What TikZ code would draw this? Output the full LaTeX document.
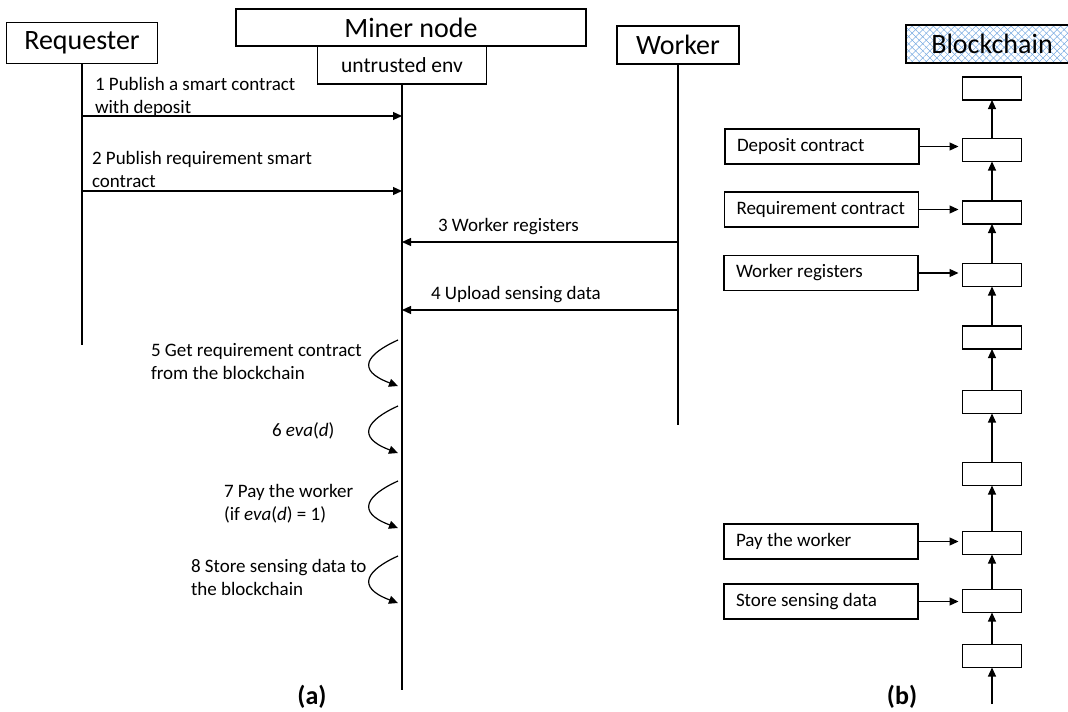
\documentclass[tikz,border=0pt]{standalone}
\usepackage{fontspec}
\setmainfont{Carlito}
\usetikzlibrary{arrows.meta,patterns.meta}
\definecolor{hatchblue}{RGB}{120,170,225}

\begin{document}
\begin{tikzpicture}[x=1pt,y=-1pt,
  every node/.style={inner sep=0pt, outer sep=0pt},
  actorbox/.style={draw, line width=1.2pt, font=\fontsize{28}{33}\selectfont},
  lifeline/.style={line width=1.2pt},
  arr/.style={line width=1.2pt, -{Triangle[length=9pt,width=8pt]}},
  lbl/.style={font=\fontsize{19}{23}\selectfont, align=flush left},
  selfarr/.style={line width=1.2pt, -{Triangle[length=9pt,width=8pt]}},
  block/.style={draw, line width=1.2pt, minimum width=59pt, minimum height=23pt},
  evbox/.style={draw, line width=1.2pt, minimum width=194pt, minimum height=35pt,
    text width=170pt, align=flush left, font=\fontsize{19}{23}\selectfont},
  caption/.style={font=\fontsize{26}{30}\selectfont\bfseries},
]
\clip (0,0) rectangle (1068,712);

% ---------- (a) sequence of interactions ----------
\node[actorbox, minimum width=151pt, minimum height=41pt] (req) at (82,43) {Requester};
\node[actorbox, minimum width=350pt, minimum height=37pt] (miner) at (411,27.5) {Miner node};
\node[draw, line width=1.2pt, minimum width=169pt, minimum height=38pt,
      font=\fontsize{21.5}{26}\selectfont] (env) at (402,65) {untrusted env};
\node[actorbox, minimum width=122pt, minimum height=38pt] (work) at (678,45) {Worker};

\coordinate (reqEnd) at (82,345);
\coordinate (minerEnd) at (402,690);
\coordinate (workEnd) at (678,425);
\draw[lifeline] (req.south) -- (reqEnd);
\draw[lifeline] (env.south) -- (minerEnd);
\draw[lifeline] (work.south) -- (workEnd);

% message levels
\coordinate (y1) at (0,116);
\coordinate (y2) at (0,191);
\coordinate (y3) at (0,242);
\coordinate (y4) at (0,310);

\draw[arr] (req.south |- y1) -- (env.south |- y1);
\draw[arr] (req.south |- y2) -- (env.south |- y2);
\draw[arr] (work.south |- y3) -- (env.south |- y3);
\draw[arr] (work.south |- y4) -- (env.south |- y4);

\node[lbl, anchor=north west] (l1) at (95,77) {1 Publish a smart contract\\with deposit};
\node[lbl, anchor=north west] (l2) at (92,151) {2 Publish requirement smart\\contract};
\node[lbl, anchor=base west] (l3) at (438,231) {3 Worker registers};
\node[lbl, anchor=base west] (l4) at (431,299) {4 Upload sensing data};

% internal steps of the miner
\coordinate (s5a) at (398,340); \coordinate (s5b) at (398,386);
\coordinate (s6a) at (398,406); \coordinate (s6b) at (398,453);
\coordinate (s7a) at (398,481); \coordinate (s7b) at (398,528);
\coordinate (s8a) at (398,556); \coordinate (s8b) at (398,603);
\foreach \s in {5,6,7,8}
  \draw[selfarr] (s\s a) .. controls +(-31,14) and +(-43,-16) .. (s\s b);

\node[lbl, anchor=north west] (l5) at (151,343) {5 Get requirement contract\\from the blockchain};
\node[lbl, anchor=base west] (l6) at (272,436) {6 \textit{eva}(\textit{d})};
\node[lbl, anchor=north west] (l7) at (224,484) {7 Pay the worker\\(if \textit{eva}(\textit{d}) = 1)};
\node[lbl, anchor=north west] (l8) at (191,559) {8 Store sensing data to\\the blockchain};

\node[caption, anchor=base] (capa) at (312,704) {(a)};

% ---------- (b) the chain of blocks ----------
\node[actorbox, minimum width=172pt, minimum height=38pt,
      preaction={pattern={Lines[angle=45,distance=5pt,line width=0.5pt]}, pattern color=hatchblue},
      pattern={Lines[angle=-45,distance=5pt,line width=0.5pt]}, pattern color=hatchblue]
      (bc) at (992,44) {Blockchain};

\foreach \i/\yy in {0/88.5,1/150,2/212.5,3/275,4/337.5,5/402,6/474,7/543,8/601,9/656}
  \node[block] (b\i) at (992,\yy) {};

\foreach \i [evaluate=\i as \j using int(\i+1)] in {0,...,8}
  \draw[arr] (b\j.north) -- (b\i.south);
\coordinate (chainIn) at (992,704);
\draw[arr] (chainIn) -- (b9.south);

\node[evbox] (dep) at (822,146.5) {Deposit contract};
\node[evbox] (rqc) at (821.5,209.5) {Requirement contract};
\node[evbox] (wrg) at (821,273) {Worker registers};
\node[evbox] (pay) at (821,541.5) {Pay the worker};
\node[evbox] (sto) at (821,601.5) {Store sensing data};

\draw[arr, shorten >=4pt] (dep.east) -- (dep.east -| b1.west);
\draw[arr, shorten >=4pt] (rqc.east) -- (rqc.east -| b2.west);
\draw[arr, shorten >=4pt] (wrg.east) -- (wrg.east -| b3.west);
\draw[arr, shorten >=4pt] (pay.east) -- (pay.east -| b7.west);
\draw[arr, shorten >=4pt] (sto.east) -- (sto.east -| b8.west);

\node[caption, anchor=base] (capb) at (902,704) {(b)};
\end{tikzpicture}
\end{document}
